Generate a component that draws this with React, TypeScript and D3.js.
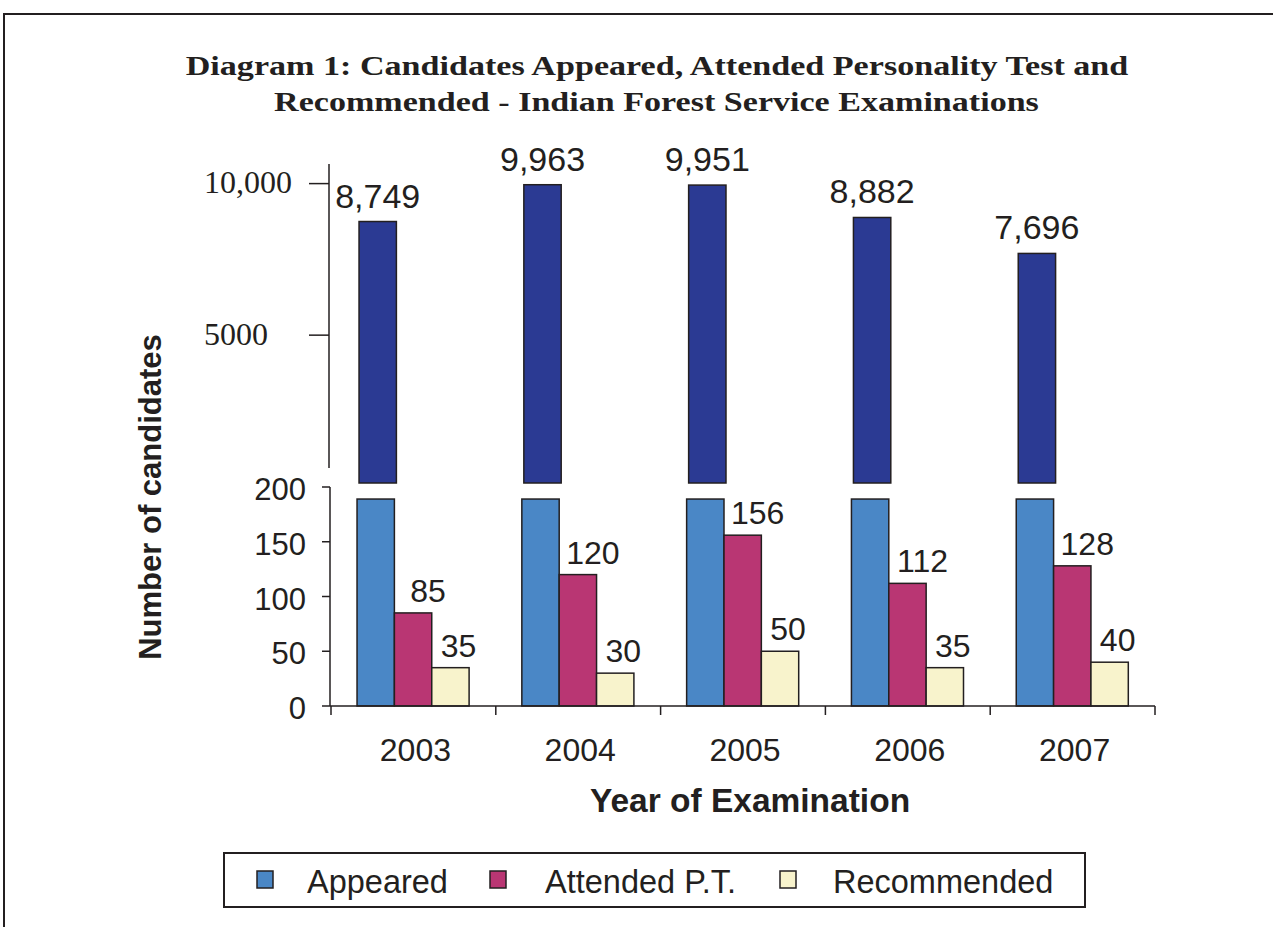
import React from "react";
import * as d3 from "d3";

const years = ["2003", "2004", "2005", "2006", "2007"];
const seriesNames = ["Appeared", "Attended P.T.", "Recommended"];
const appeared = [8749, 9963, 9951, 8882, 7696];
const attended = [85, 120, 156, 112, 128];
const recommended = [35, 30, 50, 35, 40];
const upperTicks = [5000, 10000];
const upperTickLabels = ["5000", "10,000"];
const lowerTicks = [0, 50, 100, 150, 200];
const lowerCap = 189; // where the broken Appeared bar is cut in the lower panel
const titleLines = [
  "Diagram 1: Candidates Appeared, Attended Personality Test and",
  "Recommended - Indian Forest Service Examinations",
];

const W = 1273;
const H = 927;
const colors = {
  appearedDark: "#2B3A93",
  appeared: "#4A87C6",
  attended: "#B93673",
  recommended: "#F8F3CC",
  stroke: "#231F20",
};
const sans = "'Liberation Sans', Arial, sans-serif";
const serif = "'Liberation Serif', 'Times New Roman', serif";

export default function App() {
  const x0 = d3.scaleBand<string>().domain(years).range([331, 1155]).padding(0);
  const bw = x0.bandwidth();
  const x1 = d3
    .scaleBand<string>()
    .domain(seriesNames)
    .range([bw * 0.158, bw * 0.838])
    .padding(0);
  const yUp = d3.scaleLinear().domain([0, 10000]).range([486.7, 183.6]);
  const yLow = d3.scaleLinear().domain([0, 200]).range([706, 487]);
  const breakTop = 483;
  const upAxisX = 329;
  const lowAxisX = 330;

  const fmt = d3.format(",");

  const lowerSeries = [
    { name: "Appeared", values: appeared.map((v) => Math.min(v, lowerCap)), color: colors.appeared, label: false, dx: 0 },
    { name: "Attended P.T.", values: attended, color: colors.attended, label: true, dx: 15 },
    { name: "Recommended", values: recommended, color: colors.recommended, label: true, dx: 8 },
  ];

  const legendItems = [
    { name: "Appeared", color: colors.appeared, sx: 257, tx: 307 },
    { name: "Attended P.T.", color: colors.attended, sx: 490, tx: 545 },
    { name: "Recommended", color: colors.recommended, sx: 780, tx: 833 },
  ];

  return (
    <svg
      width={W}
      height={H}
      style={{ position: "absolute", left: 0, top: 0, display: "block", background: "#fff" }}
    >
      {/* outer frame */}
      <rect x={4} y={14} width={W + 20} height={H + 20} fill="#fff" stroke="#231F20" strokeWidth={2} />

      {/* title */}
      <text
        transform="translate(657,75) scale(1.218,1)"
        textAnchor="middle"
        fontFamily={serif}
        fontWeight="bold"
        fontSize={28}
        fill="#231F20"
      >
        {titleLines[0]}
      </text>
      <text
        transform="translate(656.5,111) scale(1.217,1)"
        textAnchor="middle"
        fontFamily={serif}
        fontWeight="bold"
        fontSize={28}
        fill="#231F20"
      >
        {titleLines[1]}
      </text>

      {/* upper axis */}
      <line x1={upAxisX} x2={upAxisX} y1={164} y2={468} stroke={colors.stroke} strokeWidth={1.5} />
      {upperTicks.map((t, i) => (
        <g key={t}>
          <line x1={309} x2={upAxisX} y1={yUp(t)} y2={yUp(t)} stroke={colors.stroke} strokeWidth={1.5} />
          <text x={204} y={yUp(t)} dy="0.3em" fontFamily={serif} fontSize={32} fill="#231F20">
            {upperTickLabels[i]}
          </text>
        </g>
      ))}

      {/* upper (dark) appeared bars */}
      {years.map((yr, i) => {
        const x = x0(yr)! + x1("Appeared")!;
        const yTop = yUp(appeared[i]);
        return (
          <g key={"up" + yr}>
            <rect
              x={x + 2}
              y={yTop}
              width={x1.bandwidth()}
              height={breakTop - yTop}
              fill={colors.appearedDark}
              stroke={colors.stroke}
              strokeWidth={1.5}
            />
            <text
              x={x + 2 + x1.bandwidth() / 2}
              y={yTop - 14}
              textAnchor="middle"
              fontFamily={sans}
              fontSize={34}
              fill="#231F20"
            >
              {fmt(appeared[i])}
            </text>
          </g>
        );
      })}

      {/* lower axis */}
      <line x1={lowAxisX} x2={lowAxisX} y1={yLow(200)} y2={yLow(0)} stroke={colors.stroke} strokeWidth={1.5} />
      {lowerTicks.map((t) => (
        <g key={t}>
          <line x1={322} x2={lowAxisX} y1={yLow(t)} y2={yLow(t)} stroke={colors.stroke} strokeWidth={1.5} />
          <text
            x={306}
            y={yLow(t)}
            dy="0.42em"
            textAnchor="end"
            fontFamily={sans}
            fontSize={31}
            fill="#231F20"
          >
            {t}
          </text>
        </g>
      ))}

      {/* lower bars */}
      {lowerSeries.map((s) =>
        years.map((yr, i) => {
          const x = x0(yr)! + x1(s.name)!;
          const yTop = yLow(s.values[i]);
          return (
            <g key={s.name + yr}>
              <rect
                x={x}
                y={yTop}
                width={x1.bandwidth()}
                height={yLow(0) - yTop}
                fill={s.color}
                stroke={colors.stroke}
                strokeWidth={1.5}
              />
              {s.label && (
                <text
                  x={x + x1.bandwidth() / 2 + s.dx}
                  y={yTop - 11}
                  textAnchor="middle"
                  fontFamily={sans}
                  fontSize={32}
                  fill="#231F20"
                >
                  {s.values[i]}
                </text>
              )}
            </g>
          );
        })
      )}

      {/* x axis */}
      <line x1={lowAxisX} x2={1155} y1={yLow(0)} y2={yLow(0)} stroke={colors.stroke} strokeWidth={1.5} />
      {[...years.map((yr) => x0(yr)!), 1155].map((x, i) => (
        <line key={"xt" + i} x1={x} x2={x} y1={yLow(0)} y2={yLow(0) + 9} stroke={colors.stroke} strokeWidth={1.5} />
      ))}
      {years.map((yr) => (
        <text
          key={"xl" + yr}
          x={x0(yr)! + bw / 2 + 2}
          y={761}
          textAnchor="middle"
          fontFamily={sans}
          fontSize={32}
          fill="#231F20"
        >
          {yr}
        </text>
      ))}

      {/* axis titles */}
      <text x={750} y={812} textAnchor="middle" fontFamily={sans} fontWeight="bold" fontSize={33.5} fill="#231F20">
        Year of Examination
      </text>
      <text
        transform="translate(161,497) rotate(-90)"
        textAnchor="middle"
        fontFamily={sans}
        fontWeight="bold"
        fontSize={31}
        fill="#231F20"
      >
        Number of candidates
      </text>

      {/* legend */}
      <rect x={224} y={853} width={861} height={54} fill="#fff" stroke={colors.stroke} strokeWidth={2} />
      {legendItems.map((it) => (
        <g key={it.name}>
          <rect x={it.sx} y={871} width={16} height={17} fill={it.color} stroke={colors.stroke} strokeWidth={1.5} />
          <text x={it.tx} y={893} fontFamily={sans} fontSize={32.5} fill="#231F20">
            {it.name}
          </text>
        </g>
      ))}
    </svg>
  );
}
